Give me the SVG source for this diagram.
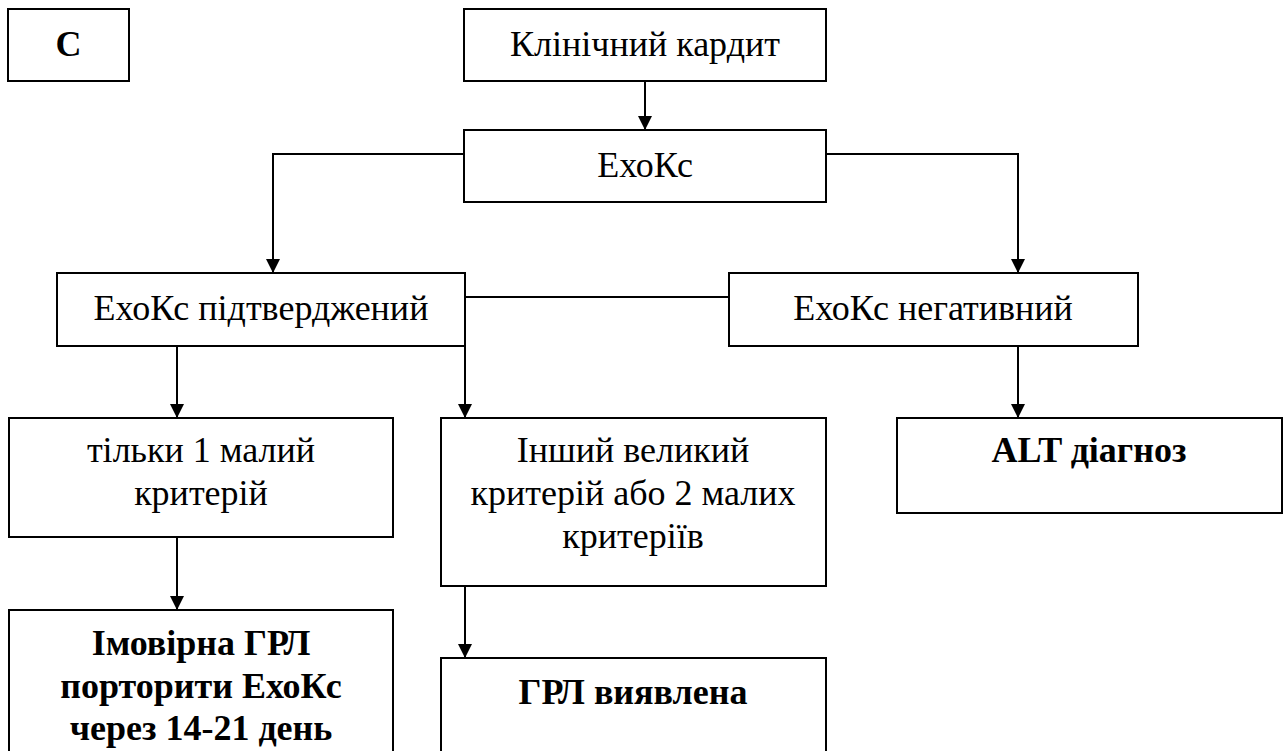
<svg xmlns="http://www.w3.org/2000/svg" width="1287" height="751" viewBox="0 0 1287 751">
<style>
.box{fill:#fff;stroke:#000;stroke-width:2}
.c{fill:none;stroke:#000;stroke-width:2}
</style>
<defs>
<marker id="ar" markerWidth="14" markerHeight="16" refX="14" refY="7" orient="auto" markerUnits="userSpaceOnUse" viewBox="0 0 14 14">
<path d="M0,0 L14,7 L0,14 Z" fill="#000"/>
</marker>
</defs>
<rect width="1287" height="751" fill="#fff"/>
<g id="connectors">
<path class="c" d="M645,81 V130" marker-end="url(#ar)"/>
<path class="c" d="M464,154 H273 V273" marker-end="url(#ar)"/>
<path class="c" d="M826,154 H1018 V273" marker-end="url(#ar)"/>
<path class="c" d="M465,297 H729"/>
<path class="c" d="M177,346 V418" marker-end="url(#ar)"/>
<path class="c" d="M465,346 V418" marker-end="url(#ar)"/>
<path class="c" d="M1018,346 V418" marker-end="url(#ar)"/>
<path class="c" d="M177,537 V610" marker-end="url(#ar)"/>
<path class="c" d="M465,586 V658" marker-end="url(#ar)"/>
</g>
<g id="nodeC">
<rect class="box" x="8" y="9" width="121" height="72"/>
<text font-family="Liberation Serif, Times New Roman, serif" font-size="36" text-anchor="middle" font-weight="bold" x="68.5" y="56">С</text>
</g>
<g id="nodeKlin">
<rect class="box" x="464" y="9" width="362" height="72"/>
<text font-family="Liberation Serif, Times New Roman, serif" font-size="36" text-anchor="middle" x="645" y="56">Клінічний кардит</text>
</g>
<g id="nodeEcho">
<rect class="box" x="464" y="130" width="362" height="72"/>
<text font-family="Liberation Serif, Times New Roman, serif" font-size="36" text-anchor="middle" x="645" y="177">ЕхоКс</text>
</g>
<g id="nodeConfirmed">
<rect class="box" x="57" y="273" width="408" height="73"/>
<text font-family="Liberation Serif, Times New Roman, serif" font-size="36" text-anchor="middle" x="261" y="320">ЕхоКс підтверджений</text>
</g>
<g id="nodeNegative">
<rect class="box" x="729" y="273" width="409" height="73"/>
<text font-family="Liberation Serif, Times New Roman, serif" font-size="36" text-anchor="middle" x="933" y="320">ЕхоКс негативний</text>
</g>
<g id="nodeMinor">
<rect class="box" x="9" y="418" width="384" height="119"/>
<text font-family="Liberation Serif, Times New Roman, serif" font-size="36" text-anchor="middle" x="201" y="462">тільки 1 малий</text>
<text font-family="Liberation Serif, Times New Roman, serif" font-size="36" text-anchor="middle" x="201" y="505">критерій</text>
</g>
<g id="nodeMajor">
<rect class="box" x="441" y="418" width="385" height="168"/>
<text font-family="Liberation Serif, Times New Roman, serif" font-size="36" text-anchor="middle" x="633" y="462">Інший великий</text>
<text font-family="Liberation Serif, Times New Roman, serif" font-size="36" text-anchor="middle" x="633" y="505">критерій або 2 малих</text>
<text font-family="Liberation Serif, Times New Roman, serif" font-size="36" text-anchor="middle" x="633" y="548">критеріїв</text>
</g>
<g id="nodeAlt">
<rect class="box" x="897" y="418" width="385" height="95"/>
<text font-family="Liberation Serif, Times New Roman, serif" font-size="36" text-anchor="middle" font-weight="bold" x="1089" y="462">ALT діагноз</text>
</g>
<g id="nodeProbable">
<rect class="box" x="9" y="610" width="384" height="160"/>
<text font-family="Liberation Serif, Times New Roman, serif" font-size="36" text-anchor="middle" font-weight="bold" x="201" y="655">Імовірна ГРЛ</text>
<text font-family="Liberation Serif, Times New Roman, serif" font-size="36" text-anchor="middle" font-weight="bold" x="201" y="698">порторити ЕхоКс</text>
<text font-family="Liberation Serif, Times New Roman, serif" font-size="36" text-anchor="middle" font-weight="bold" x="201" y="740">через 14-21 день</text>
</g>
<g id="nodeFound">
<rect class="box" x="441" y="658" width="385" height="110"/>
<text font-family="Liberation Serif, Times New Roman, serif" font-size="36" text-anchor="middle" font-weight="bold" x="633" y="704">ГРЛ виявлена</text>
</g>
</svg>
